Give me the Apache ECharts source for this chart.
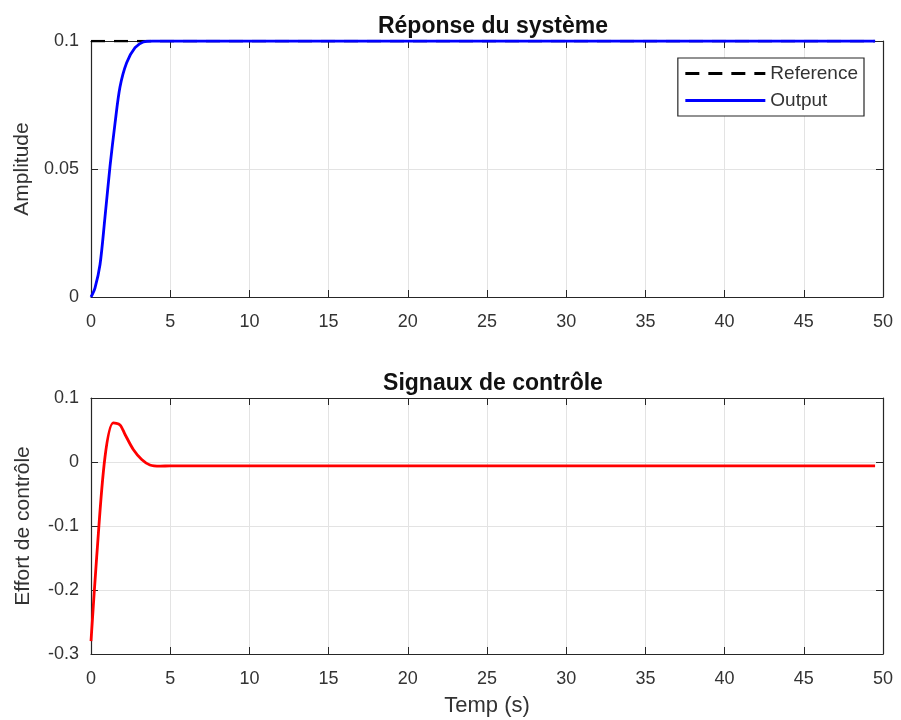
<!DOCTYPE html>
<html>
<head>
<meta charset="utf-8">
<script src="https://cdn.jsdelivr.net/npm/echarts@6/dist/echarts.min.js"></script>
<style>html,body{margin:0;padding:0;background:#fff;}#c{width:901px;height:720px;}</style>
</head>
<body>
<div id="c"></div>
<script>
// ---- data ----
const xTicks = [0, 5, 10, 15, 20, 25, 30, 35, 40, 45, 50];
const refT = [0, 49.5];
const refY = [0.1, 0.1];
const outputT = [0, 0.25, 0.57, 0.88, 1.2, 1.52, 1.83, 2.25, 2.78, 3.3, 3.9, 4.5, 49.5];
const outputY = [0, 0.0035, 0.0127, 0.031, 0.051, 0.068, 0.082, 0.0915, 0.0974, 0.0996, 0.1, 0.1, 0.1];
const controlT = [0, 0.36, 0.88, 1.41, 1.83, 2.15, 2.67, 3.2, 3.72, 4.36, 5, 49.5];
const controlY = [-0.28, -0.148, 0.007, 0.061, 0.058, 0.043, 0.0196, 0.004, -0.0046, -0.0065, -0.006, -0.006];
const titles = ['Réponse du système', 'Signaux de contrôle'];
const yNames = ['Amplitude', 'Effort de contrôle'];
const xName = 'Temp (s)';

const pair = (xs, ys) => xs.map((x, i) => [x, ys[i]]);
const font = 'Liberation Sans, Arial, Helvetica, sans-serif';
const axisCol = '#262626';
const textCol = '#333333';
const gridCol = '#e3e3e3';

function fmt(v) {
  const r = Math.round(v * 1000) / 1000;
  return String(r);
}

function mainX(gi, showName) {
  return {
    type: 'value', gridIndex: gi, min: 0, max: 50, interval: 5,
    position: 'bottom',
    name: showName ? xName : '', nameLocation: 'middle', nameGap: 41,
    nameTextStyle: { fontFamily: font, fontSize: 22, color: textCol },
    axisLine: { show: true, onZero: false, lineStyle: { color: axisCol, width: 1.2 } },
    axisTick: { show: true, inside: true, length: 7, lineStyle: { color: axisCol } },
    axisLabel: { fontFamily: font, fontSize: 18, color: textCol, margin: 16, formatter: fmt },
    splitLine: { show: true, lineStyle: { color: gridCol, width: 1 } }
  };
}
function topX(gi) {
  return {
    type: 'value', gridIndex: gi, min: 0, max: 50, interval: 5, position: 'top',
    axisLine: { show: true, onZero: false, lineStyle: { color: axisCol, width: 1.2 } },
    axisTick: { show: true, inside: true, length: 7, lineStyle: { color: axisCol } },
    axisLabel: { show: false }, splitLine: { show: false }
  };
}
function mainY(gi, min, max, interval) {
  return {
    type: 'value', gridIndex: gi, min: min, max: max, interval: interval, position: 'left',
    name: yNames[gi], nameLocation: 'middle', nameGap: 57, nameRotate: 90,
    nameTextStyle: { fontFamily: font, fontSize: 21, color: textCol },
    axisLine: { show: true, onZero: false, lineStyle: { color: axisCol, width: 1.2 } },
    axisTick: { show: true, inside: true, length: 7, lineStyle: { color: axisCol } },
    axisLabel: { fontFamily: font, fontSize: 18, color: textCol, margin: 12, formatter: fmt },
    splitLine: { show: true, lineStyle: { color: gridCol, width: 1 } }
  };
}
function rightY(gi, min, max, interval) {
  return {
    type: 'value', gridIndex: gi, min: min, max: max, interval: interval, position: 'right',
    axisLine: { show: true, onZero: false, lineStyle: { color: axisCol, width: 1.2 } },
    axisTick: { show: true, inside: true, length: 7, lineStyle: { color: axisCol } },
    axisLabel: { show: false }, splitLine: { show: false }
  };
}

const chart = echarts.init(document.getElementById('c'), null, { renderer: 'canvas' });
chart.setOption({
  backgroundColor: '#ffffff',
  animation: false,
  title: [
    { text: titles[0], left: 488, top: 10, textAlign: 'center',
      textStyle: { fontFamily: font, fontSize: 23, fontWeight: 'bold', color: '#111' } },
    { text: titles[1], left: 488, top: 367, textAlign: 'center',
      textStyle: { fontFamily: font, fontSize: 23, fontWeight: 'bold', color: '#111' } }
  ],
  legend: {
    orient: 'vertical', right: 37, top: 58,
    backgroundColor: '#fff', borderColor: axisCol, borderWidth: 1.2,
    padding: [6, 6, 6, 6], itemGap: 8, itemWidth: 80, itemHeight: 14,
    itemStyle: { opacity: 0 },
    lineStyle: { width: 3 },
    textStyle: { fontFamily: font, fontSize: 19, color: textCol },
    data: ['Reference', 'Output']
  },
  grid: [
    { left: 91, right: 18, top: 41, height: 256 },
    { left: 91, right: 18, top: 398, height: 256 }
  ],
  xAxis: [mainX(0, false), mainX(1, true), topX(0), topX(1)],
  yAxis: [mainY(0, 0, 0.1, 0.05), mainY(1, -0.3, 0.1, 0.1), rightY(0, 0, 0.1, 0.05), rightY(1, -0.3, 0.1, 0.1)],
  series: [
    { name: 'Reference', type: 'line', xAxisIndex: 0, yAxisIndex: 0, data: pair(refT, refY),
      symbol: 'none', lineStyle: { color: '#000', width: 2.5, type: [14, 9] }, itemStyle: { color: '#000' } },
    { name: 'Output', type: 'line', xAxisIndex: 0, yAxisIndex: 0, data: pair(outputT, outputY),
      symbol: 'none', smooth: 0.3, lineStyle: { color: '#0000ff', width: 2.8 }, itemStyle: { color: '#0000ff' } },
    { name: 'Control', type: 'line', xAxisIndex: 1, yAxisIndex: 1, data: pair(controlT, controlY),
      symbol: 'none', smooth: 0.3, lineStyle: { color: '#ff0000', width: 2.8 }, itemStyle: { color: '#ff0000' } }
  ]
});
</script>
</body>
</html>
